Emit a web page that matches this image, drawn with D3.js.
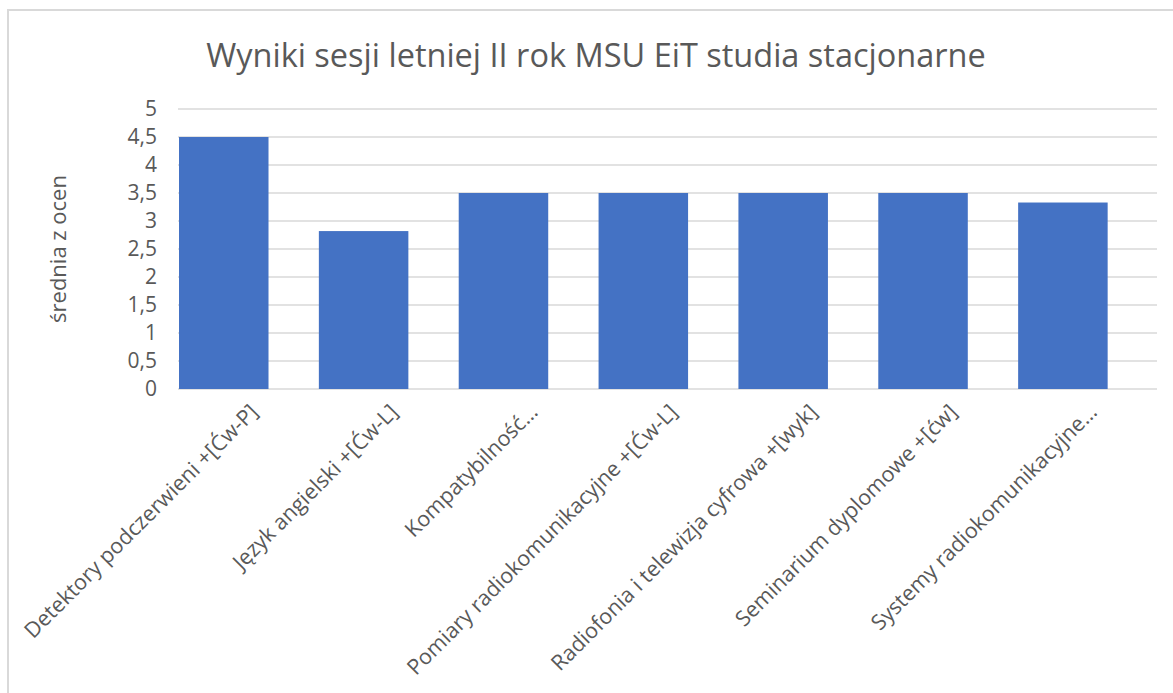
<!DOCTYPE html>
<html>
<head>
<meta charset="utf-8">
<script src="https://cdn.jsdelivr.net/npm/d3@7"></script>
<style>
  body { margin: 0; background: #fff; }
  text { font-family: "Open Sans", sans-serif; fill: #595959; }
</style>
</head>
<body>
<div id="chart"></div>
<script>
const subjects = [
  "Detektory podczerwieni +[Ćw-P]",
  "Język angielski +[Ćw-L]",
  "Kompatybilność…",
  "Pomiary radiokomunikacyjne +[Ćw-L]",
  "Radiofonia i telewizja cyfrowa +[wyk]",
  "Seminarium dyplomowe +[ćw]",
  "Systemy radiokomunikacyjne…"
];
const averages = [4.5, 2.82, 3.5, 3.5, 3.5, 3.5, 3.33];
const yTicks = [0, 0.5, 1, 1.5, 2, 2.5, 3, 3.5, 4, 4.5, 5];

const titleText = "Wyniki sesji letniej II rok MSU EiT studia stacjonarne";
const yTitle = "średnia z ocen";

const W = 1173, H = 693;
const margin = { top: 109, right: 16, bottom: 304, left: 178 };
const width = W - margin.left - margin.right,
  height = H - margin.top - margin.bottom;

const plFormat = d3.formatLocale({ decimal: ",", thousands: " ", grouping: [3], currency: ["", " zł"] }).format("~g");

const svg = d3.select("#chart").append("svg")
  .attr("width", W)
  .attr("height", H);

// chart frame
svg.append("rect")
  .attr("x", 8).attr("y", 10)
  .attr("width", W + 10).attr("height", H + 10)
  .attr("fill", "none")
  .attr("stroke", "#d9d9d9")
  .attr("stroke-width", 2);

const g = svg.append("g")
  .attr("transform", `translate(${margin.left},${margin.top})`);

// one band per subject, bars sit at the left of their band
const x = d3.scaleBand()
  .domain(subjects)
  .range([0, width]);
const barW = x.bandwidth() * 0.64;

const y = d3.scaleLinear()
  .domain([0, 5])
  .range([height, 0]);

// gridlines
g.append("g")
  .selectAll("line")
  .data(yTicks)
  .join("line")
  .attr("x1", 0).attr("x2", width)
  .attr("y1", d => y(d)).attr("y2", d => y(d))
  .attr("stroke", "#d9d9d9")
  .attr("stroke-width", 1.5);

// y tick labels
g.append("g")
  .selectAll("text")
  .data(yTicks)
  .join("text")
  .attr("x", -21)
  .attr("y", d => y(d))
  .attr("dy", "0.35em")
  .attr("text-anchor", "end")
  .style("font-size", "21px")
  .text(plFormat);

// bars
g.append("g")
  .selectAll("rect")
  .data(averages)
  .join("rect")
  .attr("x", (d, i) => x(subjects[i]) + 1)
  .attr("y", d => y(d))
  .attr("width", barW)
  .attr("height", d => y(0) - y(d))
  .attr("fill", "#4472c4");

// x labels, rotated
g.append("g")
  .selectAll("text")
  .data(subjects)
  .join("text")
  .attr("text-anchor", "end")
  .attr("dy", "0.35em")
  .attr("transform", d => `translate(${x(d) + x.bandwidth() / 2 + 6},${height + 19}) rotate(-45)`)
  .style("font-size", "21.5px")
  .text(d => d);

// y axis title
svg.append("text")
  .attr("text-anchor", "middle")
  .attr("transform", `translate(66,${margin.top + height / 2}) rotate(-90)`)
  .style("font-size", "22px")
  .text(yTitle);

// title
svg.append("text")
  .attr("x", 596)
  .attr("y", 67)
  .attr("text-anchor", "middle")
  .style("font-size", "32.5px")
  .text(titleText);
</script>
</body>
</html>
